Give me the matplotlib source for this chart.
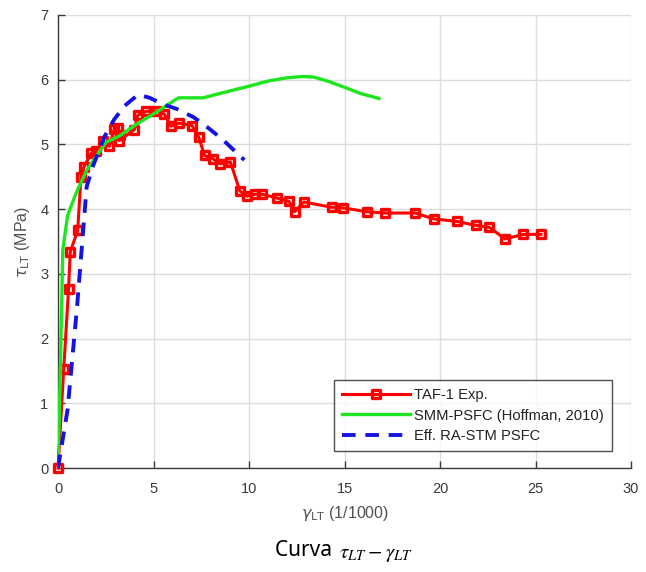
import matplotlib
matplotlib.use("Agg")
import matplotlib.pyplot as plt
from matplotlib.markers import MarkerStyle

# TAF-1 experimental shear stress-strain response
exp_gamma = [0, 0.3, 0.55, 0.64, 1.03, 1.2, 1.35, 1.73, 2.0, 2.34, 2.69, 2.95, 3.12,
             3.26, 3.21, 4.0, 4.17, 4.6, 5.13, 5.56, 5.91, 6.34, 7.02, 7.37, 7.67,
             8.1, 8.5, 9.02, 9.52, 9.91, 10.31, 10.7, 11.48, 12.09, 12.38, 12.87,
             14.32, 14.93, 16.15, 17.09, 18.7, 19.66, 20.88, 21.87, 22.57, 23.4,
             24.36, 25.28]
exp_tau = [0, 1.53, 2.76, 3.34, 3.67, 4.5, 4.65, 4.86, 4.9, 5.05, 4.97, 5.24, 5.26,
           5.15, 5.06, 5.23, 5.45, 5.51, 5.52, 5.47, 5.28, 5.33, 5.29, 5.11, 4.83,
           4.78, 4.7, 4.73, 4.28, 4.2, 4.23, 4.23, 4.17, 4.12, 3.96, 4.11,
           4.03, 4.02, 3.96, 3.94, 3.94, 3.85, 3.81, 3.75, 3.72, 3.54,
           3.61, 3.61]

# SMM-PSFC prediction (Hoffman, 2010)
smm_gamma = [0, 0.12, 0.25, 0.5, 0.95, 1.5, 2.5, 3.2, 4.1, 5.1, 6.3, 7.6, 8.5,
             10.0, 11.0, 12.0, 12.8, 13.4, 14.2, 15.2, 15.8, 16.8]
smm_tau = [0, 1.5, 3.37, 3.9, 4.25, 4.6, 5.03, 5.13, 5.31, 5.49, 5.72, 5.72, 5.79,
           5.9, 5.98, 6.03, 6.05, 6.04, 5.97, 5.86, 5.79, 5.71]

# Effective RA-STM PSFC prediction
stm_gamma = [0, 0.5, 1.0, 1.5, 1.85, 2.45, 2.95, 3.5, 4.2, 4.8, 5.5, 6.2, 7.1,
             7.8, 8.6, 9.75]
stm_tau = [0, 0.9, 2.5, 4.35, 4.68, 5.13, 5.39, 5.6, 5.77, 5.72, 5.62, 5.55, 5.42,
           5.27, 5.08, 4.76]

x_ticks = [0, 5, 10, 15, 20, 25, 30]
y_ticks = [0, 1, 2, 3, 4, 5, 6, 7]

plt.rcParams['font.family'] = ['Liberation Sans', 'DejaVu Sans']

fig = plt.figure(figsize=(6.46, 5.72), dpi=100)
ax = fig.add_axes([0.0898, 0.1818, 0.8872, 0.792])

axis_col = '#3a3a3a'
sq = MarkerStyle('s', joinstyle='round')
ax.plot(exp_gamma, exp_tau, color='#ff0000', lw=2.2, marker=sq, ms=6.2,
        mfc='none', mec='#ff0000', mew=2.4, label='TAF-1 Exp.', zorder=3,
        clip_on=False)
ax.plot(smm_gamma, smm_tau, color='#1ee61e', lw=2.4,
        label='SMM-PSFC (Hoffman, 2010)', zorder=4)
ax.plot(stm_gamma, stm_tau, color='#1414e0', lw=2.8, ls=(0, (3.5, 2.5)),
        label='Eff. RA-STM PSFC', zorder=5)

ax.set_xlim(0, 30)
ax.set_ylim(0, 7)
ax.set_xticks(x_ticks)
ax.set_yticks(y_ticks)
ax.grid(True, color='#dcdcdc', lw=1.0)
ax.set_axisbelow(True)
for s in ['top', 'right']:
    ax.spines[s].set_visible(False)
for s in ['left', 'bottom']:
    ax.spines[s].set_color(axis_col)
    ax.spines[s].set_linewidth(1.0)
ax.tick_params(direction='in', length=5, width=1.0, colors=axis_col,
               labelsize=10.5)
ax.tick_params(axis='x', pad=10)
ax.tick_params(axis='y', pad=7)

ax.set_xlabel(r'$\gamma_{\mathsf{LT}}$ (1/1000)', fontsize=11.5, color='#505050',
              labelpad=6)
ax.set_ylabel(r'$\tau_{\mathsf{LT}}$ (MPa)', fontsize=11.5, color='#505050',
              labelpad=6)

leg = ax.legend(loc='lower right', bbox_to_anchor=(0.967, 0.037), fontsize=10.6,
                frameon=True, fancybox=False, edgecolor='#222222',
                handlelength=4.6, borderpad=0.55, labelspacing=0.45,
                handletextpad=0.3, borderaxespad=0)
leg.get_frame().set_linewidth(1.0)
for t in leg.get_texts():
    t.set_color('#222222')

# Figure caption
fig.text(0.522, 0.028, 'Curva ', ha='right', va='baseline', fontsize=15,
         family='Noto Sans', color='black')
fig.text(0.524, 0.0245, r'$\tau_{LT} - \gamma_{LT}$', ha='left', va='baseline',
         fontsize=15, color='black', math_fontfamily='stix')

fig.savefig('out.png', dpi=100)
